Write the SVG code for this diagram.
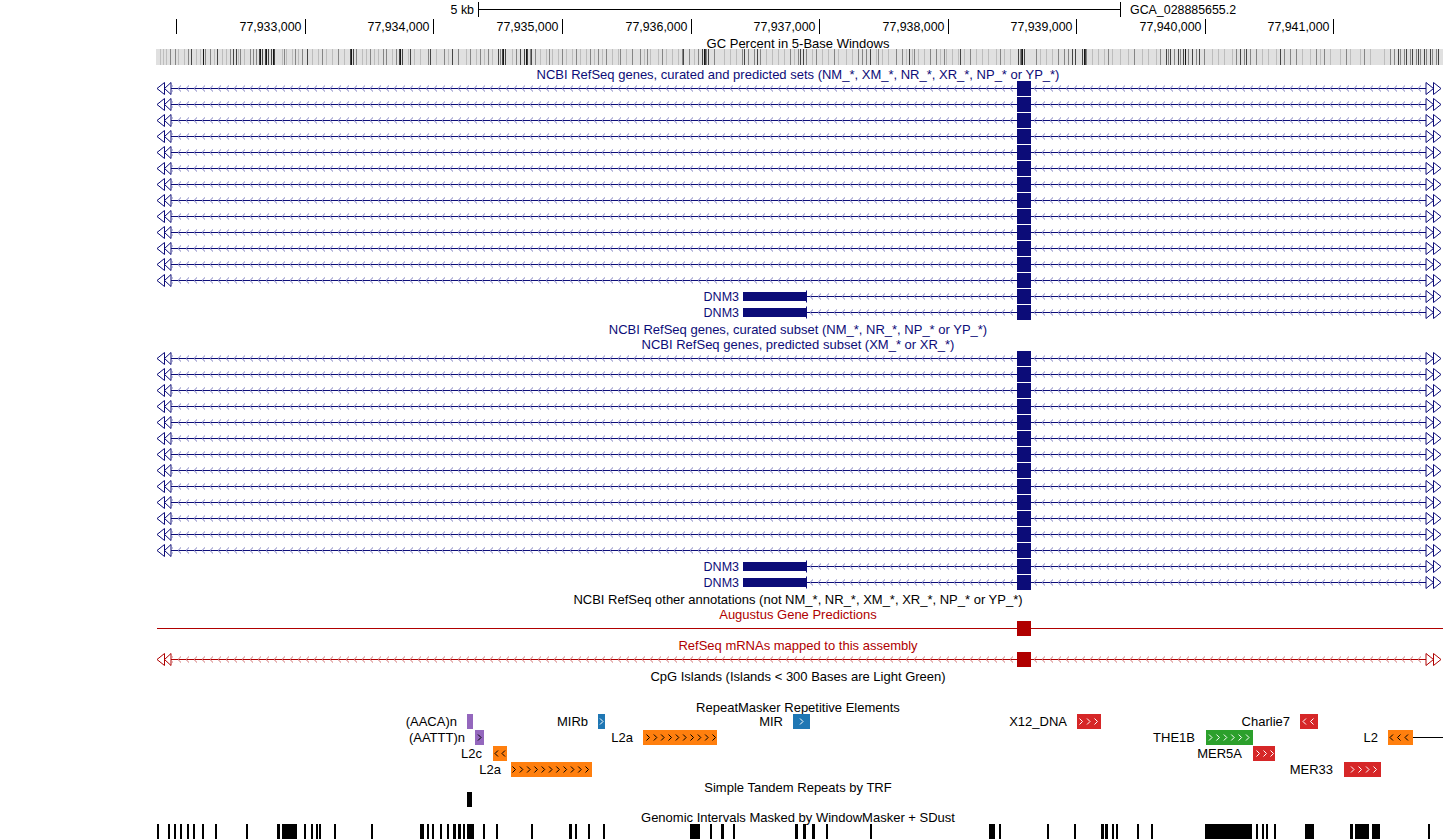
<svg xmlns="http://www.w3.org/2000/svg" xmlns:xlink="http://www.w3.org/1999/xlink" width="1443" height="840" viewBox="0 0 1443 840">
<style>
text{font-family:"Liberation Sans",Arial,sans-serif;font-size:13px;fill:#000}
.r{font-size:12.4px}
.g{font-size:12.5px}
.m{text-anchor:middle}
.e{text-anchor:end}
.nv{fill:#0c0c78}
.rd{fill:#b00000}
.tk{stroke:#000;stroke-width:1;fill:none}
.gl{stroke:#0c0c78;stroke-width:1;fill:none}
.rl{stroke:#b00000;stroke-width:1;fill:none}
.wc{stroke:#fff;stroke-width:1;fill:none}
.bc{stroke:#000;stroke-width:1;fill:none}
</style>
<defs>
<pattern id="chevN" patternUnits="userSpaceOnUse" x="0" y="-8" width="8" height="16"><path d="M5,5L2,8L5,11" fill="none" stroke="#7a7abf"/></pattern>
<pattern id="chevR" patternUnits="userSpaceOnUse" x="0" y="-8" width="8" height="16"><path d="M5,5L2,8L5,11" fill="none" stroke="#d07070"/></pattern>
<g id="txFull">
<path d="M171,0H1426" class="gl"/>
<rect x="172" y="-4" width="1253" height="8" fill="url(#chevN)"/>
<path d="M157,0L164.5,-6V6Z M164.5,0L171,-6V6Z M1426,-6L1433.5,0L1426,6Z M1433.5,-6L1441,0L1433.5,6Z" fill="#fff" stroke="#0c0c78"/>
<rect x="1017" y="-7.5" width="14" height="15" fill="#0c0c78"/>
</g>
<g id="txDNM3">
<path d="M807,0H1426" class="gl"/>
<rect x="808" y="-4" width="617" height="8" fill="url(#chevN)"/>
<rect x="743" y="-4.5" width="63" height="9" fill="#0c0c78"/>
<path d="M806.5,-6V6" class="gl"/>
<path d="M1426,-6L1433.5,0L1426,6Z M1433.5,-6L1441,0L1433.5,6Z" fill="#fff" stroke="#0c0c78"/>
<rect x="1017" y="-7.5" width="14" height="15" fill="#0c0c78"/>
</g>
</defs>
<rect width="1443" height="840" fill="#fff"/>

<g id="ruler">
<text class="e r" x="474" y="14">5 kb</text>
<path class="tk" d="M478.5,2V17M478.5,9.5H1120.5M1120.5,2V17"/>
<text class="r" x="1130" y="14">GCA_028885655.2</text>
<path class="tk" d="M176.5,19V34M305.5,19V34M433.5,19V34M562.5,19V34M691.5,19V34M819.5,19V34M948.5,19V34M1076.5,19V34M1205.5,19V34M1333.5,19V34"/>
<text class="e r" x="301.5" y="31">77,933,000</text>
<text class="e r" x="429.5" y="31">77,934,000</text>
<text class="e r" x="558.5" y="31">77,935,000</text>
<text class="e r" x="687.5" y="31">77,936,000</text>
<text class="e r" x="815.5" y="31">77,937,000</text>
<text class="e r" x="944.5" y="31">77,938,000</text>
<text class="e r" x="1072.5" y="31">77,939,000</text>
<text class="e r" x="1201.5" y="31">77,940,000</text>
<text class="e r" x="1329.5" y="31">77,941,000</text>
</g>

<g id="gc-track">
<text class="m" x="798" y="48">GC Percent in 5-Base Windows</text>
<rect x="156" y="49" width="1287" height="16" fill="#e0e0e0"/>
<path stroke="#bdbdbd" fill="none" d="M160.5 49v16M163.5 49v16M166.5 49v16M178.5 49v16M184.5 49v16M196.5 49v16M200.5 49v16M214.5 49v16M222.5 49v16M226.5 49v16M238.5 49v16M244.5 49v16M282.5 49v16M286.5 49v16M292.5 49v16M298.5 49v16M312.5 49v16M318.5 49v16M326.5 49v16M332.5 49v16M344.5 49v16M362.5 49v16M366.5 49v16M374.5 49v16M378.5 49v16M392.5 49v16M408.5 49v16M414.5 49v16M420.5 49v16M436.5 49v16M448.5 49v16M466.5 49v16M476.5 49v16M484.5 49v16M492.5 49v16M512.5 49v16M540.5 49v16M546.5 49v16M552.5 49v16M558.5 49v16M566.5 49v16M572.5 49v16M580.5 49v16M586.5 49v16M594.5 49v16M602.5 49v16M612.5 49v16M618.5 49v16M626.5 49v16M644.5 49v16M650.5 49v16M658.5 49v16M666.5 49v16M672.5 49v16M678.5 49v16M694.5 49v16M724.5 49v16M730.5 49v16M736.5 49v16M766.5 49v16M772.5 49v16M778.5 49v16M784.5 49v16M794.5 49v16M812.5 49v16M822.5 49v16M828.5 49v16M838.5 49v16M846.5 49v16M852.5 49v16M876.5 49v16M882.5 49v16M888.5 49v16M906.5 49v16M912.5 49v16M918.5 49v16M924.5 49v16M940.5 49v16M946.5 49v16M952.5 49v16M958.5 49v16M964.5 49v16M976.5 49v16M982.5 49v16M988.5 49v16M996.5 49v16M1004.5 49v16M1010.5 49v16M1040.5 49v16M1046.5 49v16M1052.5 49v16M1092.5 49v16M1098.5 49v16M1104.5 49v16M1112.5 49v16M1120.5 49v16M1128.5 49v16M1142.5 49v16M1148.5 49v16M1156.5 49v16M1212.5 49v16M1218.5 49v16M1224.5 49v16M1232.5 49v16M1262.5 49v16M1268.5 49v16M1276.5 49v16M1302.5 49v16M1310.5 49v16M1320.5 49v16M1330.5 49v16M1340.5 49v16M1350.5 49v16M1360.5 49v16M1370.5 49v16M1384.5 49v16"/>
<path stroke="#858585" fill="none" d="M170.5 49v16M175.5 49v16M188.5 49v16M205.5 49v16M210.5 49v16M230.5 49v16M240.5 49v16M250.5 49v16M253.5 49v16M256.5 49v16M284.5 49v16M295.5 49v16M302.5 49v16M322.5 49v16M338.5 49v16M356.5 49v16M370.5 49v16M383.5 49v16M386.5 49v16M396.5 49v16M428.5 49v16M444.5 49v16M458.5 49v16M470.5 49v16M480.5 49v16M488.5 49v16M500.5 49v16M516.5 49v16M530.5 49v16M535.5 49v16M549.5 49v16M562.5 49v16M576.5 49v16M590.5 49v16M598.5 49v16M606.5 49v16M620.5 49v16M632.5 49v16M640.5 49v16M647.5 49v16M662.5 49v16M682.5 49v16M689.5 49v16M698.5 49v16M706.5 49v16M714.5 49v16M742.5 49v16M748.5 49v16M754.5 49v16M760.5 49v16M790.5 49v16M798.5 49v16M806.5 49v16M816.5 49v16M834.5 49v16M858.5 49v16M862.5 49v16M866.5 49v16M878.5 49v16M896.5 49v16M902.5 49v16M914.5 49v16M930.5 49v16M936.5 49v16M944.5 49v16M970.5 49v16M1000.5 49v16M1020.5 49v16M1036.5 49v16M1058.5 49v16M1064.5 49v16M1068.5 49v16M1086.5 49v16M1108.5 49v16M1134.5 49v16M1160.5 49v16M1168.5 49v16M1174.5 49v16M1180.5 49v16M1188.5 49v16M1196.5 49v16M1204.5 49v16M1236.5 49v16M1244.5 49v16M1250.5 49v16M1256.5 49v16M1284.5 49v16M1290.5 49v16M1296.5 49v16M1316.5 49v16M1324.5 49v16M1346.5 49v16M1364.5 49v16M1390.5 49v16M1394.5 49v16M1400.5 49v16M1404.5 49v16M1410.5 49v16M1416.5 49v16M1420.5 49v16M1426.5 49v16M1432.5 49v16M1436.5 49v16"/>
<path stroke="#444" fill="none" d="M191.5 49v16M217.5 49v16M233.5 49v16M236.5 49v16M259.5 49v16M262.5 49v16M265.5 49v16M268.5 49v16M271.5 49v16M274.5 49v16M307.5 49v16M350.5 49v16M353.5 49v16M399.5 49v16M402.5 49v16M410.5 49v16M430.5 49v16M452.5 49v16M498.5 49v16M502.5 49v16M505.5 49v16M520.5 49v16M524.5 49v16M527.5 49v16M531.5 49v16M683.5 49v16M702.5 49v16M705.5 49v16M708.5 49v16M744.5 49v16M757.5 49v16M800.5 49v16M803.5 49v16M870.5 49v16M909.5 49v16M960.5 49v16M1018.5 49v16M1021.5 49v16M1024.5 49v16M1072.5 49v16M1075.5 49v16M1082.5 49v16M1085.5 49v16M1166.5 49v16M1170.5 49v16M1178.5 49v16M1183.5 49v16M1192.5 49v16M1199.5 49v16M1240.5 49v16M1246.5 49v16M1280.5 49v16M1398.5 49v16M1406.5 49v16M1412.5 49v16M1418.5 49v16M1424.5 49v16M1430.5 49v16M1438.5 49v16"/>
<path stroke="#141414" fill="none" d="M203.5 49v16M260.5 49v16M266.5 49v16M273.5 49v16M351.5 49v16M400.5 49v16M503.5 49v16M526.5 49v16M704.5 49v16M1022.5 49v16M1084.5 49v16M1185.5 49v16"/>
</g>

<g id="refseq-all">
<text class="m nv" x="798" y="79">NCBI RefSeq genes, curated and predicted sets (NM_*, XM_*, NR_*, XR_*, NP_* or YP_*)</text>
<use xlink:href="#txFull" y="88.5"/>
<use xlink:href="#txFull" y="104.5"/>
<use xlink:href="#txFull" y="120.5"/>
<use xlink:href="#txFull" y="136.5"/>
<use xlink:href="#txFull" y="152.5"/>
<use xlink:href="#txFull" y="168.5"/>
<use xlink:href="#txFull" y="184.5"/>
<use xlink:href="#txFull" y="200.5"/>
<use xlink:href="#txFull" y="216.5"/>
<use xlink:href="#txFull" y="232.5"/>
<use xlink:href="#txFull" y="248.5"/>
<use xlink:href="#txFull" y="264.5"/>
<use xlink:href="#txFull" y="280.5"/>
<use xlink:href="#txDNM3" y="296.5"/>
<use xlink:href="#txDNM3" y="312.5"/>
<text class="e nv g" x="739" y="301">DNM3</text>
<text class="e nv g" x="739" y="317">DNM3</text>
</g>

<g id="refseq-subsets">
<text class="m nv" x="798" y="334">NCBI RefSeq genes, curated subset (NM_*, NR_*, NP_* or YP_*)</text>
<text class="m nv" x="798" y="349">NCBI RefSeq genes, predicted subset (XM_* or XR_*)</text>
<use xlink:href="#txFull" y="358.5"/>
<use xlink:href="#txFull" y="374.5"/>
<use xlink:href="#txFull" y="390.5"/>
<use xlink:href="#txFull" y="406.5"/>
<use xlink:href="#txFull" y="422.5"/>
<use xlink:href="#txFull" y="438.5"/>
<use xlink:href="#txFull" y="454.5"/>
<use xlink:href="#txFull" y="470.5"/>
<use xlink:href="#txFull" y="486.5"/>
<use xlink:href="#txFull" y="502.5"/>
<use xlink:href="#txFull" y="518.5"/>
<use xlink:href="#txFull" y="534.5"/>
<use xlink:href="#txFull" y="550.5"/>
<use xlink:href="#txDNM3" y="566.5"/>
<use xlink:href="#txDNM3" y="582.5"/>
<text class="e nv g" x="739" y="571">DNM3</text>
<text class="e nv g" x="739" y="587">DNM3</text>
</g>

<g id="refseq-other">
<text class="m" x="798" y="604">NCBI RefSeq other annotations (not NM_*, NR_*, XM_*, XR_*, NP_* or YP_*)</text>
</g>

<g id="augustus">
<text class="m rd" x="798" y="619">Augustus Gene Predictions</text>
<path class="rl" d="M157,628.5H1443"/>
<rect x="1017" y="621" width="14" height="15" fill="#b00000"/>
</g>

<g id="refseq-mrna">
<text class="m rd" x="798" y="650">RefSeq mRNAs mapped to this assembly</text>
<g transform="translate(0,659.5)">
<path class="rl" d="M171,0H1426"/>
<rect x="172" y="-4" width="1253" height="8" fill="url(#chevR)"/>
<path d="M157,0L164.5,-6V6Z M164.5,0L171,-6V6Z M1426,-6L1433.5,0L1426,6Z M1433.5,-6L1441,0L1433.5,6Z" fill="#fff" stroke="#b00000"/>
<rect x="1017" y="-7.5" width="14" height="15" fill="#b00000"/>
</g>
</g>

<g id="cpg">
<text class="m" x="798" y="681">CpG Islands (Islands &lt; 300 Bases are Light Green)</text>
</g>

<g id="repeatmasker">
<text class="m" x="798" y="712">RepeatMasker Repetitive Elements</text>
<rect x="467" y="714" width="6" height="15" fill="#9467bd"/>
<rect x="598" y="714" width="7" height="15" fill="#1f77b4"/>
<rect x="793" y="714" width="17" height="15" fill="#1f77b4"/>
<rect x="1077" y="714" width="24" height="15" fill="#d62728"/>
<rect x="1300" y="714" width="18" height="15" fill="#d62728"/>
<rect x="475" y="730" width="9" height="15" fill="#9467bd"/>
<rect x="643" y="730" width="74" height="15" fill="#ff7f0e"/>
<rect x="1206" y="730" width="47" height="15" fill="#2ca02c"/>
<rect x="1388" y="730" width="25" height="15" fill="#ff7f0e"/>
<path class="bc" d="M1413,737.5H1443"/>
<rect x="493" y="746" width="14" height="15" fill="#ff7f0e"/>
<rect x="1253" y="746" width="22" height="15" fill="#d62728"/>
<rect x="511" y="762" width="81" height="15" fill="#ff7f0e"/>
<rect x="1344" y="762" width="37" height="15" fill="#d62728"/>
<path class="wc" d="M600,718.5l3,3l-3,3M800,718.5l3,3l-3,3M1079.5,718.5l3,3l-3,3M1087,718.5l3,3l-3,3M1094.5,718.5l3,3l-3,3M1306,718.5l-3,3l3,3M1313.5,718.5l-3,3l3,3M1209,734.5l3,3l-3,3M1216.4,734.5l3,3l-3,3M1223.8,734.5l3,3l-3,3M1231.2,734.5l3,3l-3,3M1238.6,734.5l3,3l-3,3M1246,734.5l3,3l-3,3M1256.5,750.5l3,3l-3,3M1263.5,750.5l3,3l-3,3M1270.5,750.5l3,3l-3,3M1351,766.5l3,3l-3,3M1358.5,766.5l3,3l-3,3M1366,766.5l3,3l-3,3M1373.5,766.5l3,3l-3,3"/>
<path class="bc" d="M478,734.5l3,3l-3,3M646.5,734.5l3,3l-3,3M653.8,734.5l3,3l-3,3M661.1,734.5l3,3l-3,3M668.5,734.5l3,3l-3,3M675.8,734.5l3,3l-3,3M683.1,734.5l3,3l-3,3M690.5,734.5l3,3l-3,3M697.8,734.5l3,3l-3,3M705.1,734.5l3,3l-3,3M712.5,734.5l3,3l-3,3M1393,734.5l-3,3l3,3M1400.5,734.5l-3,3l3,3M1408,734.5l-3,3l3,3M498,750.5l-3,3l3,3M505,750.5l-3,3l3,3M512.5,766.5l3,3l-3,3M519.8,766.5l3,3l-3,3M527.1,766.5l3,3l-3,3M534.4,766.5l3,3l-3,3M541.7,766.5l3,3l-3,3M549,766.5l3,3l-3,3M556.3,766.5l3,3l-3,3M563.6,766.5l3,3l-3,3M570.9,766.5l3,3l-3,3M578.2,766.5l3,3l-3,3M585.5,766.5l3,3l-3,3"/>
<text class="e" x="457" y="726">(AACA)n</text>
<text class="e" x="588" y="726">MIRb</text>
<text class="e" x="783" y="726">MIR</text>
<text class="e" x="1067" y="726">X12_DNA</text>
<text class="e" x="1290" y="726">Charlie7</text>
<text class="e" x="465" y="742">(AATTT)n</text>
<text class="e" x="633" y="742">L2a</text>
<text class="e" x="1195" y="742">THE1B</text>
<text class="e" x="1378" y="742">L2</text>
<text class="e" x="482" y="758">L2c</text>
<text class="e" x="1242" y="758">MER5A</text>
<text class="e" x="501" y="774">L2a</text>
<text class="e" x="1333" y="774">MER33</text>
</g>

<g id="trf">
<text class="m" x="798" y="792">Simple Tandem Repeats by TRF</text>
<rect x="467" y="792" width="5" height="15" fill="#000"/>
</g>

<g id="windowmasker">
<text class="m" x="798" y="822">Genomic Intervals Masked by WindowMasker + SDust</text>
<path fill="#000" d="M157 824h2v15h-2zM168 824h2v15h-2zM174 824h2v15h-2zM180 824h2v15h-2zM187 824h2v15h-2zM193 824h2v15h-2zM202 824h2v15h-2zM215 824h2v15h-2zM246 824h2v15h-2zM277 824h3v15h-3zM282 824h15v15h-15zM304 824h2v15h-2zM311 824h2v15h-2zM316 824h2v15h-2zM319 824h2v15h-2zM334 824h2v15h-2zM371 824h2v15h-2zM420 824h4v15h-4zM427 824h2v15h-2zM432 824h2v15h-2zM440 824h2v15h-2zM447 824h2v15h-2zM453 824h3v15h-3zM458 824h3v15h-3zM463 824h2v15h-2zM467 824h7v15h-7zM483 824h2v15h-2zM496 824h2v15h-2zM531 824h2v15h-2zM569 824h3v15h-3zM575 824h2v15h-2zM588 824h2v15h-2zM603 824h2v15h-2zM690 824h10v15h-10zM710 824h2v15h-2zM721 824h3v15h-3zM733 824h2v15h-2zM795 824h3v15h-3zM803 824h3v15h-3zM812 824h3v15h-3zM826 824h2v15h-2zM870 824h2v15h-2zM989 824h6v15h-6zM999 824h2v15h-2zM1047 824h2v15h-2zM1074 824h2v15h-2zM1101 824h3v15h-3zM1105 824h3v15h-3zM1112 824h2v15h-2zM1116 824h2v15h-2zM1137 824h2v15h-2zM1151 824h2v15h-2zM1205 824h47v15h-47zM1256 824h2v15h-2zM1262 824h2v15h-2zM1266 824h2v15h-2zM1274 824h2v15h-2zM1305 824h9v15h-9zM1350 824h3v15h-3zM1355 824h14v15h-14zM1372 824h8v15h-8zM1428 824h2v15h-2z"/>
</g>
</svg>
